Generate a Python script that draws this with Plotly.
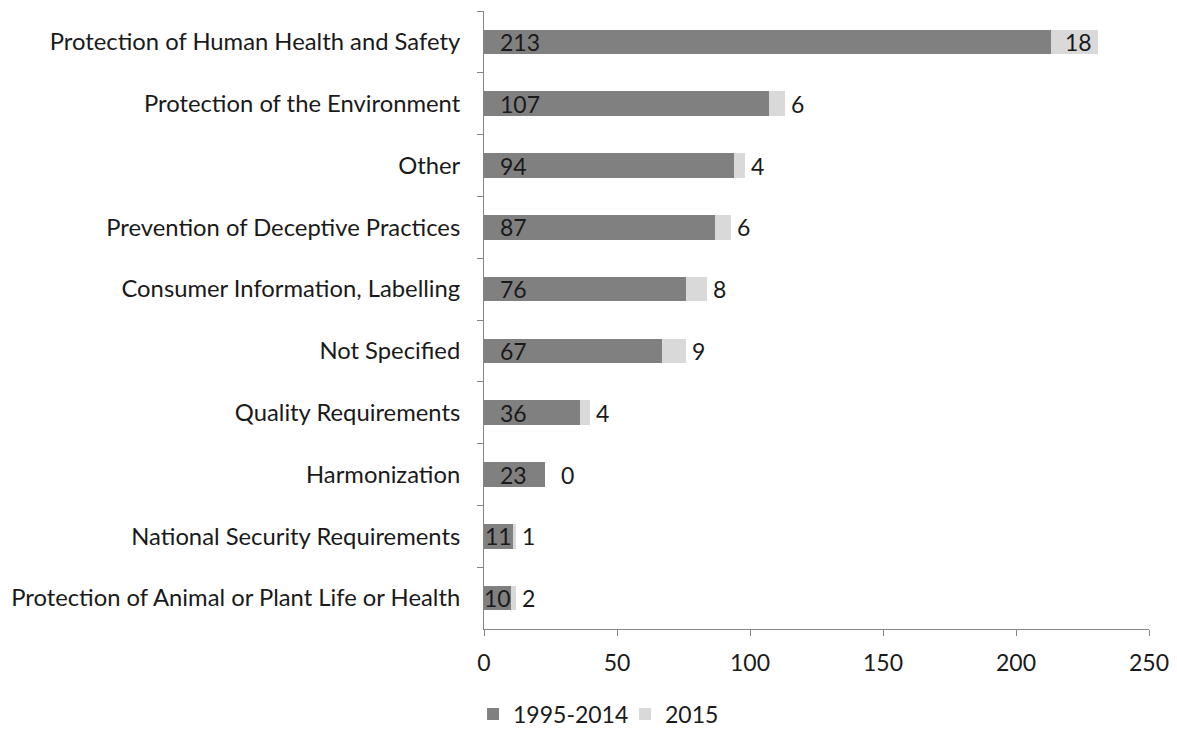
import plotly.graph_objects as go

categories = [
    "Protection of Human Health and Safety",
    "Protection of the Environment",
    "Other",
    "Prevention of Deceptive Practices",
    "Consumer Information, Labelling",
    "Not Specified",
    "Quality Requirements",
    "Harmonization",
    "National Security Requirements",
    "Protection of Animal or Plant Life or Health",
]
values_1995_2014 = [213, 107, 94, 87, 76, 67, 36, 23, 11, 10]
values_2015 = [18, 6, 4, 6, 8, 9, 4, 0, 1, 2]
x_ticks = [0, 50, 100, 150, 200, 250]

FONT = "Lato"
TXT = "#1a1a1a"
DARK = "#808080"
LIGHT = "#D9D9D9"
LBL = 23

fig = go.Figure()
fig.add_trace(go.Bar(
    y=categories, x=values_1995_2014, orientation="h", name="1995-2014",
    marker=dict(color=DARK, line=dict(width=0)),
))
fig.add_trace(go.Bar(
    y=categories, x=values_2015, orientation="h", name="2015",
    marker=dict(color=LIGHT, line=dict(width=0)),
))

annotations = []
for cat, a, b in zip(categories, values_1995_2014, values_2015):
    # base series label: inside base, centred when it does not fit
    if a >= 20:
        annotations.append(dict(x=0, y=cat, xref="x", yref="y", text=str(a),
                                showarrow=False, xanchor="left", xshift=14,
                                font=dict(family=FONT, size=LBL, color=TXT)))
    else:
        annotations.append(dict(x=a / 2, y=cat, xref="x", yref="y", text=str(a),
                                showarrow=False, xanchor="center",
                                font=dict(family=FONT, size=LBL, color=TXT)))
    # 2015 label
    if b >= 15:
        annotations.append(dict(x=a + b, y=cat, xref="x", yref="y", text=str(b),
                                showarrow=False, xanchor="right", xshift=-4,
                                font=dict(family=FONT, size=LBL, color=TXT)))
    else:
        annotations.append(dict(x=a + b, y=cat, xref="x", yref="y", text=str(b),
                                showarrow=False, xanchor="left",
                                xshift=14 if b == 0 else 4,
                                font=dict(family=FONT, size=LBL, color=TXT)))

fig.update_layout(
    barmode="stack", bargap=0.6,
    width=1177, height=729,
    margin=dict(l=476, r=36, t=3, b=108, autoexpand=False),
    plot_bgcolor="white", paper_bgcolor="white",
    font=dict(family=FONT, size=23, color=TXT),
    annotations=annotations,
    showlegend=True,
    legend=dict(orientation="h", x=-0.0165, xanchor="left", y=-0.1375, yanchor="middle",
                font=dict(family=FONT, size=23, color=TXT), traceorder="normal",
                itemwidth=30, entrywidth=107, entrywidthmode="pixels"),
    xaxis=dict(range=[0, 250], tickvals=x_ticks, showgrid=False, zeroline=False,
               showline=True, linecolor="#868686", linewidth=1, automargin=False,
               ticks="outside", ticklen=6, tickcolor="#868686",
               ticklabelstandoff=7,
               tickfont=dict(family=FONT, size=23, color=TXT)),
    yaxis=dict(autorange="reversed", showgrid=False, zeroline=False,
               showline=True, linecolor="#868686", linewidth=1, automargin=False,
               ticks="outside", ticklen=6, tickcolor="#868686", tickson="boundaries",
               ticklabelstandoff=18,
               tickfont=dict(family=FONT, size=23.8, color=TXT)),
)

fig.write_html("out.html")
